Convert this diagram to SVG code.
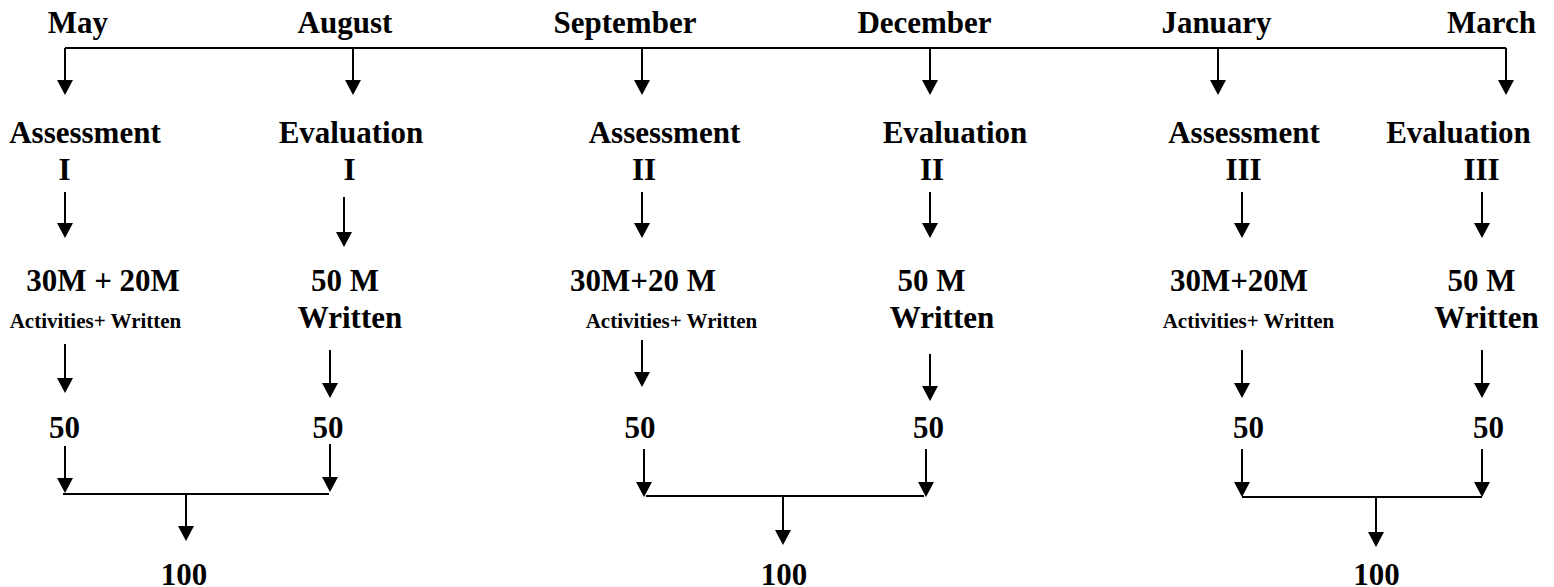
<svg xmlns="http://www.w3.org/2000/svg" width="1554" height="587" viewBox="0 0 1554 587">
<style>
.t{font-family:"Liberation Serif","Times New Roman",serif;font-weight:bold;font-size:31px;fill:#000;text-anchor:middle}
.s{font-family:"Liberation Serif","Times New Roman",serif;font-weight:bold;font-size:21px;fill:#000;text-anchor:middle}
.c{fill:none;stroke:#000;stroke-width:2}
.a{marker-end:url(#ah)}
</style>
<defs>
<marker id="ah" viewBox="0 0 15 16" refX="11" refY="8" markerWidth="15" markerHeight="16" markerUnits="userSpaceOnUse" orient="auto">
<path d="M0,0 L15,8 L0,16 Z" fill="#000"/>
</marker>
</defs>
<rect width="1554" height="587" fill="#fff"/>
<g id="connectors">
<path class="c" d="M65,48 H1506"/>
<path class="c a" d="M65,48 V91"/>
<path class="c a" d="M353,48 V91"/>
<path class="c a" d="M642,48 V91"/>
<path class="c a" d="M930,48 V91"/>
<path class="c a" d="M1218,48 V91"/>
<path class="c a" d="M1506,48 V91"/>
<path class="c a" d="M65,192 V234"/>
<path class="c a" d="M344,197 V243"/>
<path class="c a" d="M642,192 V234"/>
<path class="c a" d="M930,192 V234"/>
<path class="c a" d="M1242,192 V234"/>
<path class="c a" d="M1482,192 V234"/>
<path class="c a" d="M65,344 V389"/>
<path class="c a" d="M330,350 V394"/>
<path class="c a" d="M642,340 V383"/>
<path class="c a" d="M930,354 V397"/>
<path class="c a" d="M1242,350 V394"/>
<path class="c a" d="M1482,350 V394"/>
<path class="c a" d="M65,446 V489"/>
<path class="c a" d="M330,444 V488"/>
<path class="c a" d="M644,449 V493"/>
<path class="c a" d="M926,449 V493"/>
<path class="c a" d="M1242,449 V493"/>
<path class="c a" d="M1482,449 V493"/>
<path class="c" d="M63,494 H329"/>
<path class="c" d="M646,496 H924"/>
<path class="c" d="M1242,497 H1482"/>
<path class="c a" d="M186,494 V537"/>
<path class="c a" d="M783,496 V541"/>
<path class="c a" d="M1376,497 V543"/>
</g>
<g id="months">
<text class="t" x="78" y="33">May</text>
<text class="t" x="345" y="33">August</text>
<text class="t" x="625" y="33">September</text>
<text class="t" x="924.5" y="33">December</text>
<text class="t" x="1216.5" y="33">January</text>
<text class="t" x="1491.5" y="33">March</text>
</g>
<g id="assessment-1">
<text class="t" x="85" y="143">Assessment</text>
<text class="t" x="64.5" y="180">I</text>
</g>
<g id="evaluation-1">
<text class="t" x="351" y="143">Evaluation</text>
<text class="t" x="349.5" y="180">I</text>
</g>
<g id="assessment-2">
<text class="t" x="664.5" y="143">Assessment</text>
<text class="t" x="644" y="180">II</text>
</g>
<g id="evaluation-2">
<text class="t" x="955" y="143">Evaluation</text>
<text class="t" x="932" y="180">II</text>
</g>
<g id="assessment-3">
<text class="t" x="1244" y="143">Assessment</text>
<text class="t" x="1243.5" y="180">III</text>
</g>
<g id="evaluation-3">
<text class="t" x="1458.5" y="143">Evaluation</text>
<text class="t" x="1481.5" y="180">III</text>
</g>
<g id="marks-a1">
<text class="t" x="103" y="291">30M + 20M</text>
<text class="s" x="95.5" y="328">Activities+ Written</text>
</g>
<g id="marks-e1">
<text class="t" x="345" y="291">50 M</text>
<text class="t" x="350" y="328">Written</text>
</g>
<g id="marks-a2">
<text class="t" x="643" y="291">30M+20 M</text>
<text class="s" x="671.5" y="328">Activities+ Written</text>
</g>
<g id="marks-e2">
<text class="t" x="931.5" y="291">50 M</text>
<text class="t" x="942" y="328">Written</text>
</g>
<g id="marks-a3">
<text class="t" x="1239" y="291">30M+20M</text>
<text class="s" x="1248.5" y="328">Activities+ Written</text>
</g>
<g id="marks-e3">
<text class="t" x="1481.5" y="291">50 M</text>
<text class="t" x="1486.5" y="328">Written</text>
</g>
<g id="scores">
<text class="t" x="64.5" y="438">50</text>
<text class="t" x="328" y="438">50</text>
<text class="t" x="640" y="438">50</text>
<text class="t" x="928.5" y="438">50</text>
<text class="t" x="1248.5" y="438">50</text>
<text class="t" x="1488.5" y="438">50</text>
</g>
<g id="totals">
<text class="t" x="184" y="585">100</text>
<text class="t" x="784" y="585">100</text>
<text class="t" x="1376.5" y="585">100</text>
</g>
</svg>
